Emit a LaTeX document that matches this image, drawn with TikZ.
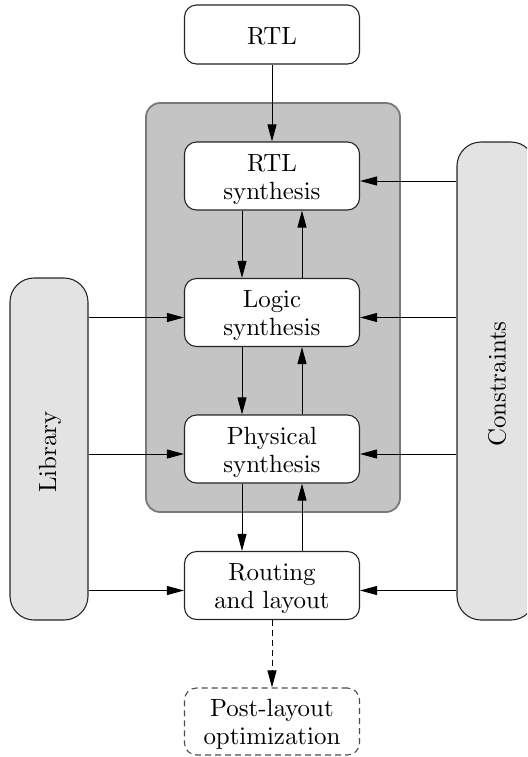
\documentclass[tikz,border=0pt]{standalone}
\usetikzlibrary{arrows.meta}
\definecolor{coregray}{HTML}{C4C4C4}
\definecolor{coreedge}{HTML}{7A7A7A}
\definecolor{sidegray}{HTML}{E3E3E3}
% ten-point design scaled up, as in the usual figure font
\font\figrm=cmr10 at 12.45pt
\begin{document}
\begin{tikzpicture}[x=0.5pt,y=-0.5pt,
  txt/.style={font=\fontsize{12.45}{14}\selectfont\figrm, inner sep=0pt, align=center},
  box/.style={draw=black!85, line width=0.55pt, rounded corners=6pt,
    fill=white, minimum width=87.5pt, minimum height=34pt, inner sep=0pt},
  dashbox/.style={box, draw=black!70, dash pattern=on 3pt off 2pt},
  core/.style={draw=coreedge, line width=0.9pt, fill=coregray,
    rounded corners=7pt, inner sep=0pt},
  side/.style={draw=black!85, line width=0.55pt, fill=sidegray,
    rounded corners=12pt, inner sep=0pt, minimum width=39pt},
  arr/.style={line width=0.5pt, -{Triangle[length=8.5pt,width=4.5pt]}},
  dasharr/.style={arr, dash pattern=on 3pt off 2pt}]
\clip (0,0) rectangle (527,757);

% shaded region holding the three synthesis steps
\node[core, minimum width=127pt, minimum height=204.5pt] (core) at (273,307.5) {};

% flow steps
\node[box, minimum height=29.5pt] (rtl) at (272,34.5) {};
\node[box] (rtls) at (272,176) {};
\node[box] (logic) at (272,312.5) {};
\node[box] (phys) at (272,449) {};
\node[box] (route) at (272,585.5) {};
\node[dashbox, minimum height=33.5pt] (post) at (272,721.5) {};

\node[txt] (rtl-t) at ([yshift=-0.8pt]rtl) {RTL};
\node[txt] (rtls-t) at ([yshift=-1.5pt]rtls) {RTL\\synthesis};
\node[txt] (logic-t) at ([yshift=-1.5pt]logic) {Logic\\synthesis};
\node[txt] (phys-t) at ([yshift=-1.5pt]phys) {Physical\\synthesis};
\node[txt] (route-t) at ([yshift=-1.5pt]route) {Routing\\and layout};
\node[txt] (post-t) at ([yshift=-1.5pt]post) {Post-layout\\optimization};

% side inputs
\node[side, minimum height=171pt] (lib) at (49,449) {};
\node[txt, rotate=90] (lib-t) at ([xshift=0.5pt,yshift=-1.5pt]lib) {Library};
\node[side, minimum height=239pt] (cons) at (496,381) {};
\node[txt, rotate=90] (cons-t) at ([xshift=0.5pt,yshift=-1.5pt]cons) {Constraints};

% main flow
\draw[arr] (rtl) -- (rtls);
\foreach \a/\b in {rtls/logic, logic/phys, phys/route}{
  \draw[arr] ([xshift=-15pt]\a.south) -- ([xshift=-15pt]\b.north);
  \draw[arr] ([xshift=15pt]\b.north) -- ([xshift=15pt]\a.south);
}
\draw[dasharr] (route) -- (post);

% library feeds
\foreach \t in {logic, phys, route}{
  \draw[arr] ([yshift=-2.5pt]\t.west -| lib.east) -- ([yshift=-2.5pt]\t.west);
}
% constraint feeds
\foreach \t in {rtls, logic, phys, route}{
  \draw[arr] ([yshift=-2.5pt]\t.east -| cons.west) -- ([yshift=-2.5pt]\t.east);
}
\end{tikzpicture}
\end{document}
